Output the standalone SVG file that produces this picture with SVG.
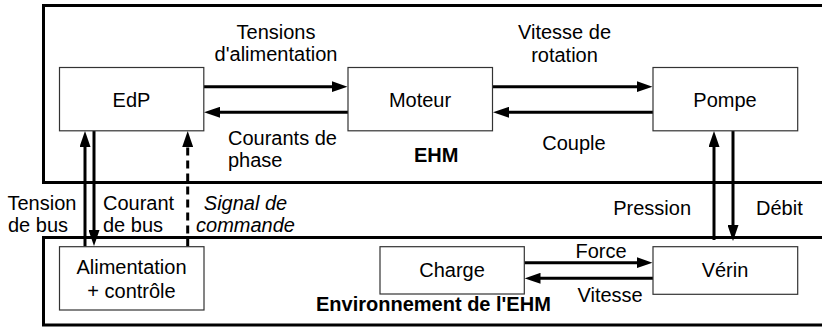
<svg xmlns="http://www.w3.org/2000/svg" width="822" height="329" viewBox="0 0 822 329">
<style>
text{font-family:"Liberation Sans",Arial,sans-serif;font-size:20px;fill:#000}
.c{text-anchor:middle}
.e{text-anchor:end}
.b{font-weight:bold}
.i{font-style:italic}
.frame{fill:none;stroke:#000;stroke-width:3}
.box{fill:#fff;stroke:#333;stroke-width:1.2}
.arr{fill:none;stroke:#000;stroke-width:3;marker-end:url(#ah)}
.dash{stroke-dasharray:8 5}
</style>
<defs>
<marker id="ah" markerUnits="userSpaceOnUse" viewBox="0 0 16 11" markerWidth="16" markerHeight="11" refX="6" refY="5.5" orient="auto">
<path d="M0,0 L16,5.5 L0,11 z" fill="#000"/>
</marker>
</defs>
<g id="frames">
<path class="frame" d="M830,5.5 H43.5 V182.5 H830"/>
<path class="frame" d="M830,237.5 H43.5 V325 H830"/>
<text class="b" x="414" y="162">EHM</text>
<text class="b" x="316" y="311">Environnement de l'EHM</text>
</g>
<g id="connectors">
<line class="arr" x1="204" y1="86.7" x2="337.5" y2="86.7"/>
<line class="arr" x1="348" y1="112.3" x2="214" y2="112.3"/>
<line class="arr" x1="492.5" y1="86.7" x2="642.5" y2="86.7"/>
<line class="arr" x1="653" y1="112.3" x2="503" y2="112.3"/>
<line class="arr" x1="85" y1="246.5" x2="85" y2="141"/>
<line class="arr" x1="94" y1="131" x2="94" y2="236"/>
<line class="arr dash" x1="187.7" y1="246.5" x2="187.7" y2="141"/>
<line class="arr" x1="714" y1="240" x2="714" y2="141"/>
<line class="arr" x1="733" y1="131" x2="733" y2="231"/>
<line class="arr" x1="524.3" y1="262.7" x2="642.5" y2="262.7"/>
<line class="arr" x1="653" y1="278.3" x2="534.5" y2="278.3"/>
<text class="c" x="276" y="38.5">Tensions</text>
<text class="c" x="276" y="61">d'alimentation</text>
<text x="228" y="145">Courants de</text>
<text x="228" y="167">phase</text>
<text class="c" x="564.5" y="38.5">Vitesse de</text>
<text class="c" x="564.5" y="61.5">rotation</text>
<text class="c" x="574" y="150">Couple</text>
<text x="7.5" y="209.5">Tension</text>
<text x="8" y="232">de bus</text>
<text x="103" y="209.5">Courant</text>
<text x="103" y="232">de bus</text>
<text class="c i" x="245.5" y="209.5">Signal de</text>
<text class="c i" x="245.5" y="232">commande</text>
<text class="e" x="691" y="215">Pression</text>
<text x="756" y="215">Débit</text>
<text x="575.5" y="258">Force</text>
<text x="577.5" y="302">Vitesse</text>
</g>
<g id="EdP">
<rect class="box" x="59.5" y="67.5" width="144.3" height="63.3"/>
<text class="c" x="131.5" y="107">EdP</text>
</g>
<g id="Moteur">
<rect class="box" x="348" y="67.5" width="144.5" height="63.3"/>
<text class="c" x="420" y="107">Moteur</text>
</g>
<g id="Pompe">
<rect class="box" x="653" y="67.5" width="144.7" height="63.3"/>
<text class="c" x="725" y="107">Pompe</text>
</g>
<g id="Alimentation">
<rect class="box" x="59.5" y="246.7" width="144.5" height="63.3"/>
<text class="c" x="131.5" y="273.5">Alimentation</text>
<text class="c" x="131.5" y="298">+ contrôle</text>
</g>
<g id="Charge">
<rect class="box" x="380" y="246.7" width="144.3" height="47.3"/>
<text class="c" x="452" y="277">Charge</text>
</g>
<g id="Verin">
<rect class="box" x="653" y="246.7" width="144.7" height="47.6"/>
<text class="c" x="725" y="277">Vérin</text>
</g>
</svg>
